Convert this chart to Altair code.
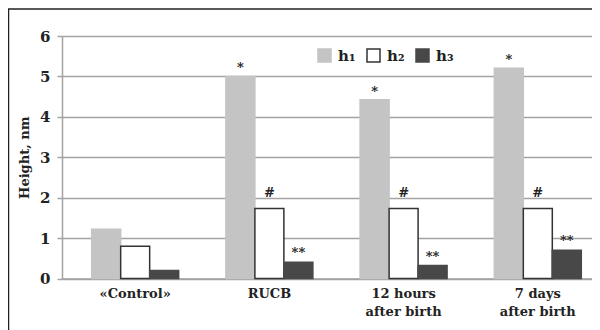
import altair as alt
import pandas as pd

categories = ["«Control»", "RUCB", "12 hours\nafter birth", "7 days\nafter birth"]
series = ["h₁", "h₂", "h₃"]
h1 = [1.22, 5.0, 4.42, 5.2]
h2 = [0.80, 1.73, 1.73, 1.73]
h3 = [0.20, 0.40, 0.32, 0.70]
marks_h1 = ["", "*", "*", "*"]
marks_h2 = ["", "#", "#", "#"]
marks_h3 = ["", "**", "**", "**"]

rows = []
for i, c in enumerate(categories):
    for s, vals, ann in zip(series, [h1, h2, h3], [marks_h1, marks_h2, marks_h3]):
        rows.append({"cat": c, "series": s, "value": vals[i], "ann": ann[i]})
df = pd.DataFrame(rows)

FONT = "DejaVu Serif"
GRID = "#a3a3a3"
fills = ["#c4c4c4", "#ffffff", "#484848"]
strokes = ["#c4c4c4", "#333333", "#484848"]

xscale = alt.Scale(domain=categories, paddingInner=0.352, paddingOuter=0.1505, align=0.735)
xenc = alt.X("cat:N", scale=xscale, sort=categories,
             axis=alt.Axis(title=None, labelAngle=0, ticks=False, domain=True,
                           domainColor=GRID, domainWidth=1.5,
                           labelFont=FONT, labelFontWeight="bold", labelFontSize=13,
                           labelColor="#222222", labelLineHeight=18, labelPadding=9,
                           labelExpr="split(datum.label, '\\n')"))
yscale = alt.Scale(domain=[0, 6], nice=False)

legend = alt.Legend(title=None, orient="none", legendX=255, legendY=12, direction="horizontal",
                    symbolType="square", symbolSize=169, symbolStrokeWidth=1.5,
                    labelFont=FONT, labelFontWeight="bold", labelFontSize=15,
                    labelColor="#222222", labelOffset=6, columnPadding=8, padding=0)

base = alt.Chart(df)

bars = base.mark_bar(strokeWidth=1.5).encode(
    x=xenc,
    xOffset=alt.XOffset("series:N", sort=series, scale=alt.Scale(paddingInner=0, paddingOuter=0)),
    y=alt.Y("value:Q", scale=yscale,
            axis=alt.Axis(title="Height, nm", values=[0, 1, 2, 3, 4, 5, 6], grid=True,
                          gridColor=GRID, gridWidth=1.5, domainColor=GRID, domainWidth=1.5,
                          tickColor=GRID, tickWidth=1.5, tickSize=5, labelPadding=7,
                          labelFont=FONT, labelFontWeight="bold", labelFontSize=15,
                          labelColor="#222222", titleFont=FONT, titleFontWeight="bold",
                          titleFontSize=13, titleColor="#222222", titlePadding=8)),
    color=alt.Color("series:N", sort=series, scale=alt.Scale(domain=series, range=fills),
                    legend=legend),
    stroke=alt.Stroke("series:N", sort=series, scale=alt.Scale(domain=series, range=strokes),
                      legend=legend),
)

def ann_layer(s, dy):
    return base.transform_filter(
        (alt.datum.series == s) & (alt.datum.ann != "")
    ).mark_text(font=FONT, fontWeight="bold", fontSize=13, color="#222222",
                baseline="alphabetic", dy=dy).encode(
        x=alt.X("cat:N", scale=xscale, sort=categories),
        xOffset=alt.XOffset("series:N", sort=series, scale=alt.Scale(domain=series, paddingInner=0, paddingOuter=0)),
        y=alt.Y("value:Q", scale=yscale),
        text="ann:N",
    )

frame = alt.Chart(alt.Data(values=[{"f": 1}])).mark_rect(
    fill=None, filled=False, stroke="#222222", strokeWidth=1.5
).encode(x=alt.value(-53.5), x2=alt.value(600), y=alt.value(-27), y2=alt.value(400))

chart = alt.layer(
    frame, bars, ann_layer("h₁", -4), ann_layer("h₂", -12), ann_layer("h₃", -5)
).properties(
    width=530, height=242.5,
    padding={"left": 54, "top": 28, "right": 0, "bottom": 51.5},
    autosize=alt.AutoSizeParams(type="none"),
).configure_view(stroke=None).configure(background="white")

chart.save("out.html", embed_options={"renderer": "svg", "actions": False})
